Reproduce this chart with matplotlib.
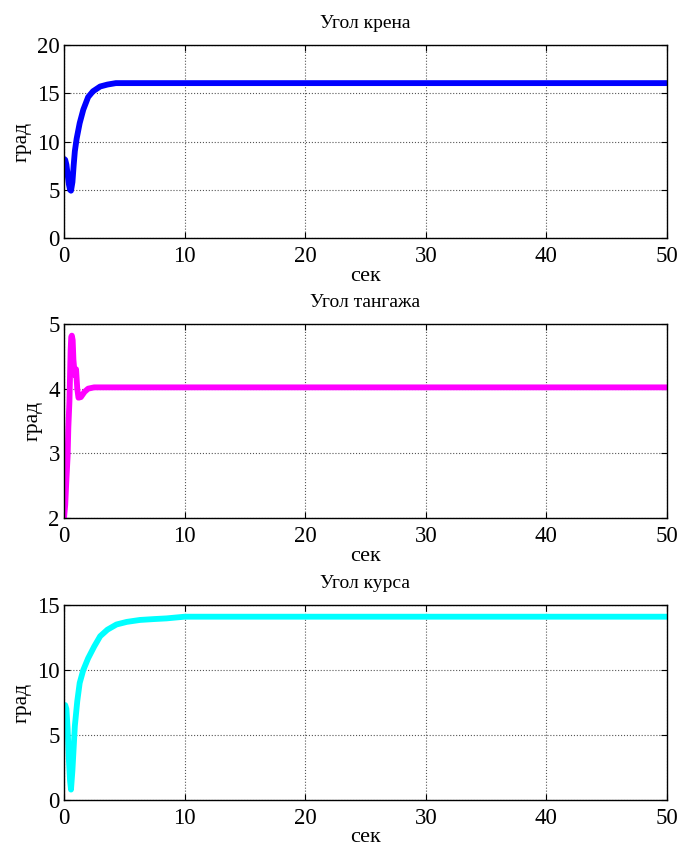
import matplotlib
matplotlib.use("Agg")
import matplotlib.pyplot as plt

plt.rcParams['font.family'] = ['Liberation Serif', 'DejaVu Serif']

# Roll angle (Угол крена)
t_roll = [0.0, 0.1, 0.2, 0.3, 0.4, 0.5, 0.58, 0.7, 0.8, 0.9, 1.05, 1.3, 1.6, 2.0, 2.4, 3.0, 3.6, 4.3, 6.0, 10.0, 20.0, 30.0, 40.0, 50.0]
y_roll = [8.2, 8.1, 7.6, 6.6, 5.6, 5.0, 4.9, 5.8, 7.5, 9.0, 10.3, 11.9, 13.3, 14.6, 15.2, 15.7, 15.9, 16.05, 16.05, 16.05, 16.05, 16.05, 16.05, 16.05]

# Pitch angle (Угол тангажа)
t_pitch = [0.0, 0.1, 0.2, 0.3, 0.36, 0.45, 0.5, 0.55, 0.6, 0.65, 0.72, 0.78, 0.85, 0.95, 1.0, 1.1, 1.2, 1.4, 1.7, 2.0, 2.5, 5.0, 10.0, 20.0, 30.0, 40.0, 50.0]
y_pitch = [2.0, 2.2, 2.6, 2.95, 3.4, 3.8, 4.2, 4.6, 4.8, 4.82, 4.75, 4.45, 4.3, 4.2, 4.3, 4.0, 3.86, 3.87, 3.95, 4.0, 4.02, 4.02, 4.02, 4.02, 4.02, 4.02, 4.02]

# Heading angle (Угол курса)
t_head = [0.0, 0.1, 0.2, 0.3, 0.4, 0.5, 0.58, 0.7, 0.9, 1.1, 1.3, 1.6, 2.0, 2.5, 3.0, 3.6, 4.35, 5.2, 6.3, 7.5, 8.5, 10.0, 20.0, 30.0, 40.0, 50.0]
y_head = [7.3, 7.3, 7.0, 5.5, 3.2, 1.5, 0.8, 2.3, 5.7, 7.6, 9.0, 10.0, 10.9, 11.8, 12.6, 13.1, 13.5, 13.7, 13.85, 13.92, 13.97, 14.1, 14.1, 14.1, 14.1, 14.1]

titles = ['Угол крена', 'Угол тангажа', 'Угол курса']
ylims = [(0, 20), (2, 5), (0, 15)]
yticks = [[0, 5, 10, 15, 20], [2, 3, 4, 5], [0, 5, 10, 15]]
xticks = [0, 10, 20, 30, 40, 50]
colors = ['#0000ff', '#ff00ff', '#00ffff']
series = [(t_roll, y_roll), (t_pitch, y_pitch), (t_head, y_head)]

fig = plt.figure(figsize=(6.81, 8.46), dpi=100)
W, H = 681.0, 846.0
boxes = [(45, 238), (324, 518), (605, 800)]
left, right = 64, 667

for i, (top, bot) in enumerate(boxes):
    ax = fig.add_axes([left / W, 1 - bot / H, (right - left) / W, (bot - top) / H])
    t, y = series[i]
    ax.plot(t, y, color=colors[i], lw=4.2, solid_capstyle='round', solid_joinstyle='round')
    ax.set_xlim(0, 50)
    ax.set_ylim(*ylims[i])
    ax.set_xticks(xticks)
    ax.set_yticks(yticks[i])
    ax.grid(True, color='#555555', linestyle=':', linewidth=0.8)
    ax.tick_params(direction='in', top=True, right=True, labelsize=16.5, length=4, width=0.8)
    ax.tick_params(axis='x', pad=6)
    ax.tick_params(axis='y', pad=3)
    ax.set_title(titles[i], fontsize=14, pad=12)
    ax.set_xlabel('сек', fontsize=16, labelpad=(0 if i < 2 else -1))
    ax.set_ylabel('град', fontsize=15.5, labelpad=4)
    for s in ax.spines.values():
        s.set_linewidth(1.0)

fig.savefig('out.png', dpi=100)
